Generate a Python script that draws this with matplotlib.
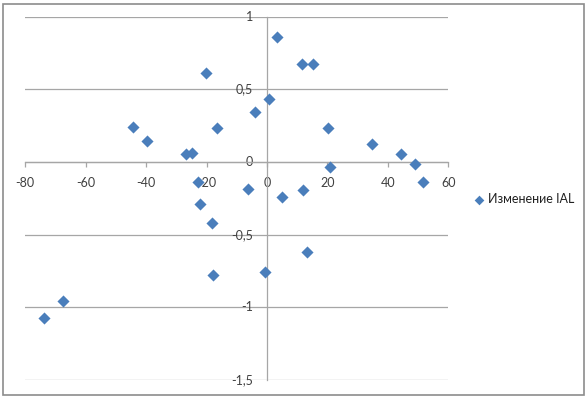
import matplotlib
matplotlib.use('Agg')
import matplotlib.pyplot as plt
from matplotlib.ticker import FuncFormatter, MultipleLocator
from matplotlib.patches import Rectangle

plt.rcParams['font.family'] = ['Lato', 'Open Sans', 'DejaVu Sans']
plt.rcParams['axes.unicode_minus'] = False

# data
x_vals = [3.2, -20.3, 0.8, -4.1, -44.5, -16.7, -39.6, -26.9, -24.7, -22.8,
          -6.3, 5.0, 11.5, 15.1, 20.2, 34.9, 44.5, 49.1, 20.9, 51.7,
          12.0, -22.2, -18.1, -18.0, -0.8, -67.6, -73.7, 13.3]
y_vals = [0.863, 0.614, 0.433, 0.341, 0.243, 0.231, 0.142, 0.055, 0.062, -0.135,
          -0.188, -0.24, 0.673, 0.673, 0.233, 0.124, 0.055, -0.016, -0.037, -0.135,
          -0.195, -0.287, -0.417, -0.777, -0.756, -0.955, -1.075, -0.616]
series_name = 'Изменение IAL'

blue = '#4A7EBB'
grid_gray = '#A6A6A6'
text_color = '#404040'

fig = plt.figure(figsize=(5.87, 3.97), dpi=100)
ax = fig.add_axes([25.3 / 587, 1 - 380 / 397, 423 / 587, 363.3 / 397])

ax.scatter(x_vals, y_vals, marker='D', s=38, color=blue, linewidths=0,
           label=series_name, zorder=3)

ax.set_xlim(-80, 60)
ax.set_ylim(-1.5, 1)
ax.xaxis.set_major_locator(MultipleLocator(20))
ax.yaxis.set_major_locator(MultipleLocator(0.5))

fmt = FuncFormatter(lambda v, p: ('%g' % v).replace('.', ','))
ax.xaxis.set_major_formatter(fmt)
ax.yaxis.set_major_formatter(fmt)

ax.grid(axis='y', color=grid_gray, linewidth=0.9)
ax.set_axisbelow(True)

for s in ['top', 'right']:
    ax.spines[s].set_visible(False)
ax.spines['left'].set_position(('data', 0))
ax.spines['bottom'].set_position(('data', 0))
ax.spines['left'].set_color(grid_gray)
ax.spines['bottom'].set_color(grid_gray)
ax.spines['left'].set_linewidth(0.9)
ax.spines['bottom'].set_linewidth(0.9)

ax.tick_params(axis='x', direction='out', length=3.5, width=0.9, color=grid_gray,
               pad=7, labelsize=9, labelcolor=text_color)
ax.tick_params(axis='y', length=0, pad=10, labelsize=9, labelcolor=text_color)
for lbl in ax.get_yticklabels():
    lbl.set_verticalalignment('center')

ax.legend(loc='center left', bbox_to_anchor=(474 / 587, 1 - 199 / 397),
          bbox_transform=fig.transFigure, frameon=False, fontsize=9,
          handlelength=0.8, handletextpad=0.3, borderpad=0, borderaxespad=0,
          labelcolor='#202020', scatterpoints=1, markerscale=0.8)

# outer chart border
fig.patches.append(Rectangle((2.5 / 587, 2.5 / 397), 581 / 587, 391 / 397,
                             transform=fig.transFigure, fill=False,
                             edgecolor='#8C8C8C', linewidth=1.2))

fig.savefig('out.png', dpi=100)
